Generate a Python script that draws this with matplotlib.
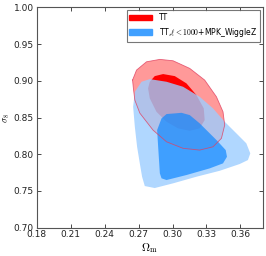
import numpy as np
import matplotlib.pyplot as plt

plt.rcParams['mathtext.fontset'] = 'cm'
plt.rcParams['font.family'] = 'DejaVu Sans'

# contour outlines (Omega_m, sigma_8)
tt_95_om = [0.2647, 0.2654, 0.2667, 0.2711, 0.2828, 0.2947, 0.3093, 0.3240, 0.3358,
            0.3432, 0.3461, 0.3446, 0.3388, 0.3284, 0.3152, 0.3005, 0.2888, 0.2770, 0.2682]
tt_95_s8 = [0.9010, 0.8900, 0.8737, 0.8560, 0.8328, 0.8169, 0.8080, 0.8056, 0.8101,
            0.8216, 0.8397, 0.8578, 0.8782, 0.9010, 0.9169, 0.9273, 0.9292, 0.9259, 0.9146]

tt_68_om = [0.2799, 0.2843, 0.2917, 0.3020, 0.3123, 0.3211, 0.3276, 0.3284, 0.3240,
            0.3152, 0.3049, 0.2947, 0.2858, 0.2799, 0.2784]
tt_68_s8 = [0.8987, 0.9064, 0.9092, 0.9064, 0.8965, 0.8806, 0.8624, 0.8465, 0.8352,
            0.8319, 0.8352, 0.8442, 0.8578, 0.8761, 0.8897]

wz_95_om = [0.2726, 0.2799, 0.2947, 0.3093, 0.3240, 0.3358, 0.3461, 0.3564, 0.3652,
            0.3687, 0.3666, 0.3593, 0.3417, 0.3211, 0.3005, 0.2843, 0.2755, 0.2731,
            0.2711, 0.2687, 0.2667, 0.2652, 0.2667]
wz_95_s8 = [0.8987, 0.9023, 0.8987, 0.8919, 0.8782, 0.8624, 0.8442, 0.8284, 0.8148,
            0.8011, 0.7920, 0.7866, 0.7774, 0.7693, 0.7603, 0.7539, 0.7566, 0.7693,
            0.7875, 0.8101, 0.8374, 0.8646, 0.8850]

wz_68_om = [0.3020, 0.3079, 0.3152, 0.3240, 0.3388, 0.3470, 0.3481, 0.3446, 0.3329,
            0.3123, 0.2947, 0.2903, 0.2888, 0.2873, 0.2864, 0.2903, 0.2947]
wz_68_s8 = [0.8556, 0.8564, 0.8533, 0.8420, 0.8193, 0.8056, 0.7965, 0.7875, 0.7807,
            0.7716, 0.7648, 0.7671, 0.7739, 0.8101, 0.8329, 0.8488, 0.8547]

xticks = [0.18, 0.21, 0.24, 0.27, 0.30, 0.33, 0.36]
yticks = [0.70, 0.75, 0.80, 0.85, 0.90, 0.95, 1.00]
labels = ['TT', r'TT,$\ell<1000$+MPK_WiggleZ']

fig = plt.figure(figsize=(2.66, 2.56), dpi=100)
ax = fig.add_axes([0.138, 0.111, 0.851, 0.86])

# TT
ax.fill(tt_95_om, tt_95_s8, color='#ff9999', lw=0)
ax.fill(tt_68_om, tt_68_s8, color='#ff0000', lw=0)
# WiggleZ
ax.fill(wz_95_om, wz_95_s8, color='#9ccdff', alpha=0.8, lw=0)
ax.fill(wz_68_om, wz_68_s8, color='#1088ff', alpha=0.7, lw=0)
# outline of the TT 95% region shows through
ax.plot(tt_95_om + tt_95_om[:1], tt_95_s8 + tt_95_s8[:1], color='#e04060', lw=0.6, alpha=0.8)

ax.set_xlim(0.18, 0.38)
ax.set_ylim(0.70, 1.00)
ax.set_xticks(xticks)
ax.set_yticks(yticks)
ax.set_xticklabels(['%.2f' % v for v in xticks])
ax.set_yticklabels(['%.2f' % v for v in yticks])
ax.tick_params(direction='in', top=True, right=True, labelsize=6.5, length=3, width=0.5,
               pad=2, labelcolor='#222222')
for s in ax.spines.values():
    s.set_color('#555555')
    s.set_linewidth(0.8)

ax.set_xlabel(r'$\Omega_{\rm m}$', fontsize=8, labelpad=1)
ax.set_ylabel(r'$\sigma_8$', fontsize=6.5, labelpad=1)

h1 = plt.Rectangle((0, 0), 1, 1, color='#ff0000')
h2 = plt.Rectangle((0, 0), 1, 1, color='#40a0ff')
leg = ax.legend([h1, h2], labels, loc='upper right', fontsize=5.5, frameon=True, fancybox=False,
                handlelength=3.0, handleheight=0.8, borderpad=0.35, labelspacing=0.5,
                handletextpad=0.9, borderaxespad=0.4)
leg.get_frame().set_edgecolor('#555555')
leg.get_frame().set_linewidth(0.8)

fig.savefig('out.png', dpi=100)
